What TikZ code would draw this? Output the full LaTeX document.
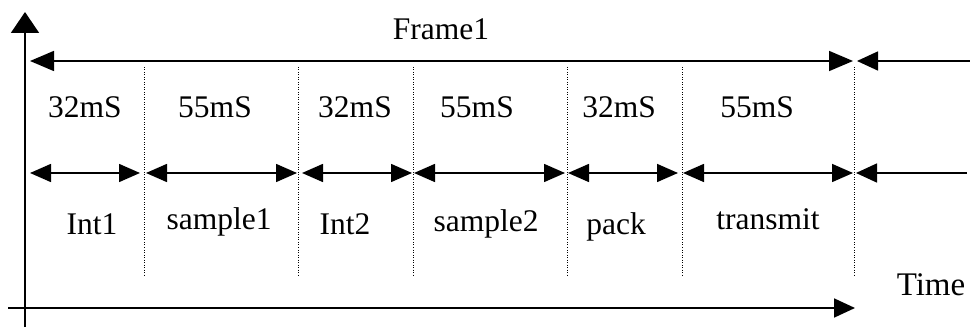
\documentclass[tikz,border=0pt]{standalone}
\usepackage{fontspec}
\setmainfont{Liberation Serif}
\usetikzlibrary{arrows.meta}
\begin{document}
\begin{tikzpicture}[x=1pt,y=-1pt,
  lbl/.style={font=\fontsize{31.5}{36}\selectfont, inner sep=0pt, anchor=base},
  axis/.style={line width=1.8pt},
  bigtip/.style={line width=1.6pt, {Triangle[length=24pt,width=20pt]}-{Triangle[length=24pt,width=20pt]}},
  segarrow/.style={line width=1.6pt, {Triangle[length=21pt,width=18pt]}-{Triangle[length=21pt,width=18pt]}},
  lefttip/.style={line width=1.6pt, {Triangle[length=21pt,width=19pt]}-},
  divider/.style={line width=1pt, dash pattern=on 1pt off 1.5pt}]
\useasboundingbox (0,0) rectangle (973,328);
% axes
\coordinate (vb) at (25,327);
\coordinate (vt) at (25,12);
\coordinate (hl) at (8,308);
\coordinate (hr) at (855,308);
\draw[axis, -{Triangle[length=21pt,width=28pt]}] (vb) -- (vt);
\draw[axis, -{Triangle[length=21pt,width=19pt]}] (hl) -- (hr);
% segment boundaries
\foreach \n/\x in {b0/30, b1/144, b2/298, b3/413, b4/567, b5/682, b6/854}{
  \coordinate (\n top) at (\x,67);
  \coordinate (\n bot) at (\x,276);
}
\foreach \n in {b1,b2,b3,b4,b5,b6}{
  \draw[divider] (\n top) -- (\n bot);
}
% frame arrow
\coordinate (f0) at (30,61);
\coordinate (f1) at (853,61);
\coordinate (f2) at (857,61);
\coordinate (f3) at (970,61);
\draw[bigtip] (f0) -- (f1);
\draw[lefttip] (f2) -- (f3);
\node[lbl] (frame) at (441,40) {Frame1};
% segment arrows
\coordinate (s0a) at (30,173);  \coordinate (s0b) at (140,173);
\coordinate (s1a) at (146,173); \coordinate (s1b) at (297,173);
\coordinate (s2a) at (302,173); \coordinate (s2b) at (412,173);
\coordinate (s3a) at (414,173); \coordinate (s3b) at (565,173);
\coordinate (s4a) at (568,173); \coordinate (s4b) at (678,173);
\coordinate (s5a) at (683,173); \coordinate (s5b) at (853,173);
\coordinate (s6a) at (856,173); \coordinate (s6b) at (967,173);
\foreach \i in {0,...,5}{
  \draw[segarrow] (s\i a) -- (s\i b);
}
\draw[lefttip] (s6a) -- (s6b);
% durations
\node[lbl] (d1) at (85,118) {32mS};
\node[lbl] (d2) at (215,118) {55mS};
\node[lbl] (d3) at (355,118) {32mS};
\node[lbl] (d4) at (477,118) {55mS};
\node[lbl] (d5) at (619,118) {32mS};
\node[lbl] (d6) at (757,118) {55mS};
% names
\node[lbl] (n1) at (92,235) {Int1};
\node[lbl] (n2) at (219,230) {sample1};
\node[lbl] (n3) at (345,235) {Int2};
\node[lbl] (n4) at (486,232) {sample2};
\node[lbl] (n5) at (616,235) {pack};
\node[lbl] (n6) at (768,230) {transmit};
\node[lbl, font=\fontsize{33}{38}\selectfont] (time) at (931,295) {Time};
\end{tikzpicture}
\end{document}
